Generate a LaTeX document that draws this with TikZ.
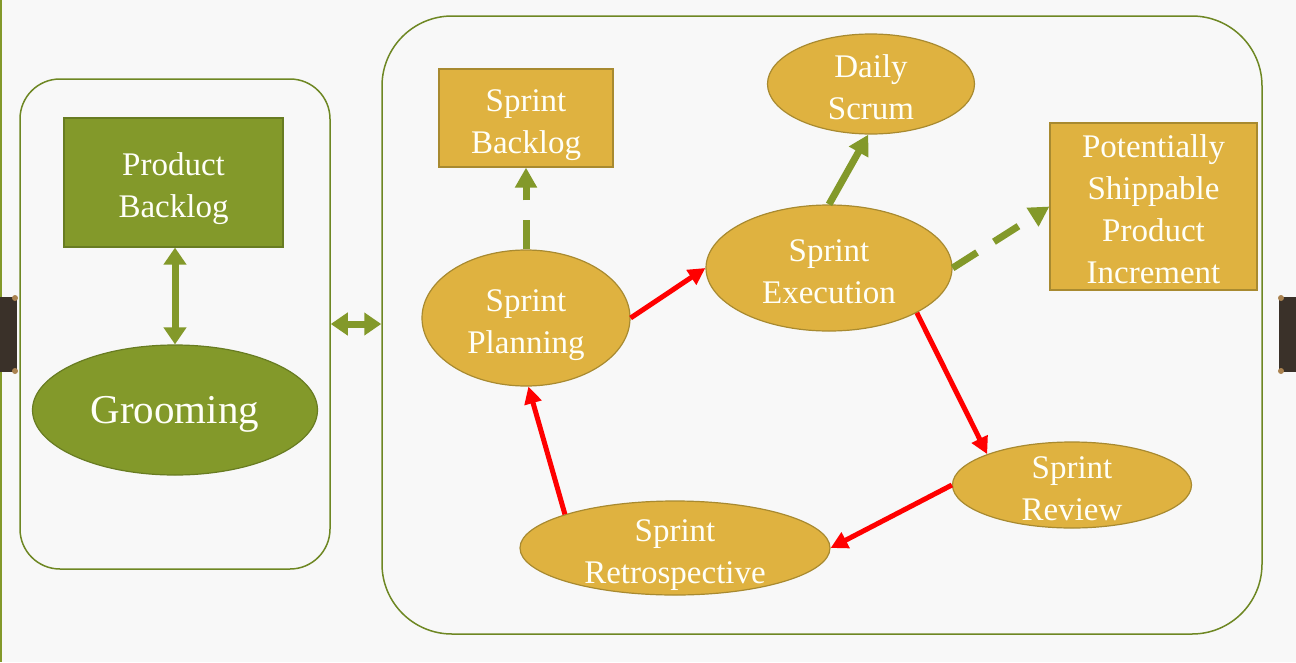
\documentclass[tikz,border=0pt]{standalone}
\usepackage{fontspec}
\setmainfont{Liberation Serif}
\usetikzlibrary{shapes.geometric,arrows.meta}
\definecolor{bgc}{RGB}{248,248,248}
\definecolor{gold}{RGB}{223,178,64}
\definecolor{goldline}{RGB}{168,138,48}
\definecolor{olive}{RGB}{131,153,42}
\definecolor{oliveline}{RGB}{104,124,34}
\definecolor{boxline}{RGB}{110,135,35}
\definecolor{darkbar}{RGB}{58,49,41}
\definecolor{tan}{RGB}{170,130,80}
\definecolor{txt}{RGB}{255,255,248}
\newcommand\mltext[1]{\begin{tabular}{@{}c@{}}#1\end{tabular}}
\tikzset{
  txtstyle/.style={text=txt, font=\fontsize{33}{42}\selectfont, inner sep=0pt,
    text height=30pt, text depth=5.5pt},
  goldbox/.style={txtstyle, rectangle, fill=gold, draw=goldline, line width=1.2pt},
  goldell/.style={txtstyle, ellipse, fill=gold, draw=goldline, line width=1.2pt},
  greenbox/.style={txtstyle, rectangle, fill=olive, draw=oliveline, line width=1.2pt},
  frame/.style={rectangle, draw=boxline, line width=1.5pt},
  redarrow/.style={draw=red, line width=5pt, -{Triangle[length=17pt,width=17pt]}},
  greenarrow/.style={draw=olive, line width=7pt, -{Triangle[length=20pt,width=21pt]}},
  greendash/.style={greenarrow, dash pattern=on 29pt off 20pt},
  greendouble/.style={draw=olive, line width=7pt, {Triangle[length=17pt,width=22pt]}-{Triangle[length=17pt,width=22pt]}},
}
\begin{document}
\begin{tikzpicture}[x=1pt,y=-1pt]
\useasboundingbox (0,0) rectangle (1296,662);
\fill[bgc] (0,0) rectangle (1296,662);
\draw[olive, line width=2pt] (1,0) -- (1,662);
% side bars
\fill[darkbar] (0,297) rectangle (17,372);
\fill[tan] (15,298) circle (3);
\fill[tan] (15,371) circle (3);
\fill[darkbar] (1279,297) rectangle (1296,372);
\fill[tan] (1281,298) circle (3);
\fill[tan] (1281,371) circle (3);
% frames
\node[frame, rounded corners=40pt, minimum width=310pt, minimum height=490pt] (leftbox) at (175,324) {};
\node[frame, rounded corners=70pt, minimum width=880pt, minimum height=618pt] (bigbox) at (822,325) {};
% left side
\node[greenbox, minimum width=219pt, minimum height=129pt] (pb) at (173.5,182.5) {\mltext{Product\\Backlog}};
\node[txtstyle, ellipse, fill=olive, draw=oliveline, line width=1.2pt, minimum width=285pt, minimum height=130pt, font=\fontsize{41}{45}\selectfont, text height=36pt, text depth=9pt] (groom) at (175,410) {Grooming};
% right side
\node[goldbox, minimum width=174pt, minimum height=98pt] (sb) at (526,118) {\mltext{Sprint\\Backlog}};
\node[goldell, minimum width=207pt, minimum height=100pt] (daily) at (871,84) {\mltext{Daily\\Scrum}};
\node[goldbox, minimum width=207pt, minimum height=167pt] (pspi) at (1153.5,206.5) {\mltext{Potentially\\Shippable\\Product\\Increment}};
\node[goldell, minimum width=208pt, minimum height=136pt] (plan) at (526,318) {\mltext{Sprint\\Planning}};
\node[goldell, minimum width=246pt, minimum height=126pt] (exec) at (829,268) {\mltext{Sprint\\Execution}};
\node[goldell, minimum width=239pt, minimum height=86pt] (review) at (1072,485) {\mltext{Sprint\\Review}};
\node[goldell, minimum width=310pt, minimum height=94pt] (retro) at (675,548) {\mltext{Sprint\\Retrospective}};
% connectors
\draw[greendouble] (pb.south -| groom.north) -- (groom.north);
\draw[greendouble] (leftbox.east) -- (leftbox.east -| bigbox.west);
\draw[greendash] (plan.north) -- (sb.south);
\draw[greenarrow] (exec.north) -- (daily.-93);
\draw[greendash] (exec.east) -- (pspi.west);
\draw[redarrow] (plan.east) -- (exec.west);
\draw[redarrow] (exec.-27) -- (review.160);
\draw[redarrow] (review.west) -- (retro.east);
\draw[redarrow] (retro.163) -- (plan.-88);
\end{tikzpicture}
\end{document}
